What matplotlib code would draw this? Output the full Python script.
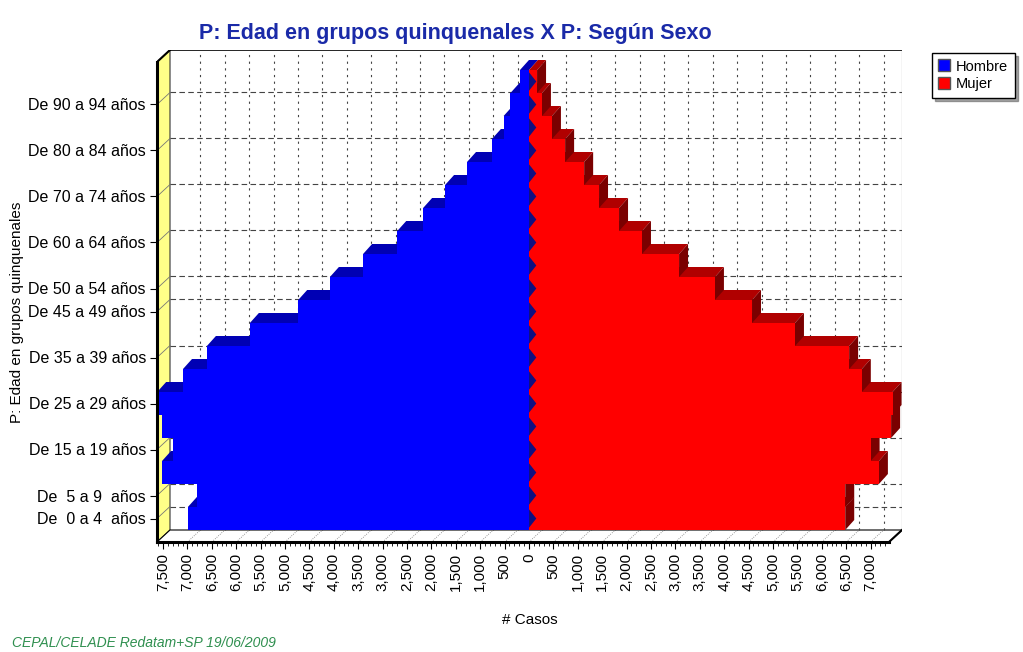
import matplotlib.pyplot as plt
from matplotlib.patches import Polygon
from matplotlib.lines import Line2D

plt.rcParams['font.family'] = ['Liberation Sans', 'DejaVu Sans']

# age groups (0-4 ... 95-99), only some get a tick label like the original
groups = ["De  0 a 4  años", "De  5 a 9  años", "De 10 a 14 años", "De 15 a 19 años",
          "De 20 a 24 años", "De 25 a 29 años", "De 30 a 34 años", "De 35 a 39 años",
          "De 40 a 44 años", "De 45 a 49 años", "De 50 a 54 años", "De 55 a 59 años",
          "De 60 a 64 años", "De 65 a 69 años", "De 70 a 74 años", "De 75 a 79 años",
          "De 80 a 84 años", "De 85 a 89 años", "De 90 a 94 años", "De 95 a 99 años"]
shown_labels = [0, 1, 3, 5, 7, 9, 10, 12, 14, 16, 18]

hombre = [6990, 6800, 7520, 7300, 7520, 7620, 7090, 6600, 5720, 4730,
          4080, 3400, 2700, 2170, 1720, 1270, 760, 520, 380, 185]
mujer = [6480, 6480, 7170, 7000, 7420, 7450, 6820, 6560, 5450, 4570,
         3810, 3075, 2315, 1845, 1435, 1130, 740, 470, 265, 165]

xticks = list(range(-7500, 7001, 500))

# pixel -> data helpers (1023x652 canvas)
SCALE = 0.0488   # px per case
ROW = 23.0       # px per age group
def X(px):
    return (px - 529) / SCALE
def Y(py):
    return (518.5 - py) / ROW

DX, DY = 13 / SCALE, 12 / ROW      # depth of the box
dxb, dyb = 9 / SCALE, 10 / ROW     # depth of the bars

fig = plt.figure(figsize=(10.23, 6.52), dpi=100)
ax = fig.add_axes([157 / 1023, 1 - 542 / 652, (902 - 157) / 1023, (542 - 50) / 652])
ax.set_xlim(X(157), X(902))
ax.set_ylim(Y(542), Y(50))
ax.set_facecolor('none')

# back wall grid
for v in xticks[1:]:
    ax.plot([v + DX, v + DX], [Y(530), Y(50)], color='#444444', lw=0.8,
            ls=(0, (2, 4)), zorder=1)
for k in shown_labels:
    ax.plot([X(170), X(902)], [k + DY, k + DY], color='#444444', lw=0.8,
            ls=(0, (5, 3)), zorder=1)
ax.plot([X(170), X(902)], [Y(50), Y(50)], color='black', lw=1.2, zorder=1)
ax.plot([X(902), X(902)], [Y(50), Y(530)], color='#555555', lw=0.8, zorder=1)

# left wall (yellow) and floor
ax.add_patch(Polygon([(X(157), Y(62)), (X(157), Y(542)), (X(170), Y(530)), (X(170), Y(50))],
                     closed=True, facecolor='#ffff88', edgecolor='#333333', lw=0.8, zorder=0.5))
ax.add_patch(Polygon([(X(157), Y(542)), (X(889), Y(542)), (X(902), Y(530)), (X(170), Y(530))],
                     closed=True, facecolor='white', edgecolor='black', lw=0.8, zorder=0.5))
for v in xticks[1:]:
    ax.plot([v, v + DX], [Y(542), Y(530)], color='#777777', lw=0.6, ls=':', zorder=0.6)
for k in shown_labels:
    ax.plot([X(157), X(170)], [k, k + DY], color='#777777', lw=0.6, zorder=0.6)

# bar depth faces first
for k in range(len(groups)):
    yb, yt = k - 0.5, k + 0.5
    h, m = -hombre[k], mujer[k]
    ax.add_patch(Polygon([(h, yt), (h + dxb, yt + dyb), (dxb, yt + dyb), (0, yt)],
                         closed=True, facecolor='#0000b4', edgecolor='none', zorder=2))
    ax.add_patch(Polygon([(0, yt), (m, yt), (m + dxb, yt + dyb), (dxb, yt + dyb)],
                         closed=True, facecolor='#b00000', edgecolor='none', zorder=2))
    ax.add_patch(Polygon([(m, yb), (m, yt), (m + dxb, yt + dyb), (m + dxb, yb + dyb)],
                         closed=True, facecolor='#7a0000', edgecolor='none', zorder=2))

# front faces
ax.barh(range(len(groups)), [-v for v in hombre], height=1.0, color='#0000ff', zorder=3)
ax.barh(range(len(groups)), mujer, height=1.0, color='#ff0000', zorder=3)
for k in range(len(groups)):
    ax.add_patch(Polygon([(0, k - 0.4), (150, k), (0, k + 0.4)], closed=True,
                         facecolor='#101080', edgecolor='none', zorder=4))

# axes lines, ticks
for s in ['top', 'right']:
    ax.spines[s].set_visible(False)
ax.spines['left'].set_bounds(Y(542), Y(62))
ax.spines['left'].set_linewidth(2.2)
ax.spines['bottom'].set_bounds(X(157), X(889))
ax.spines['bottom'].set_linewidth(2.2)
ax.spines['left'].set_zorder(5)
ax.spines['bottom'].set_zorder(5)
ax.plot([X(889), X(902)], [Y(542), Y(530)], color='black', lw=1.5, zorder=5)
ax.plot([X(157), X(170)], [Y(62), Y(50)], color='black', lw=1.5, zorder=5)

ax.set_yticks(shown_labels)
ax.set_yticklabels([groups[k] for k in shown_labels], fontsize=11.5)
ax.set_xticks(xticks)
ax.set_xticklabels([f"{abs(v):,}" for v in xticks], rotation=90, fontsize=11)
ax.set_xticks(range(-7600, 7400, 100), minor=True)
ax.tick_params(axis='both', direction='out', length=5, width=0.8, pad=3)
ax.tick_params(axis='x', which='minor', length=3, width=0.6)

ax.set_xlabel("# Casos", fontsize=11, labelpad=16)
fig.text(17 / 1023, 1 - 312 / 652, "P: Edad en grupos quinquenales", rotation=90,
         ha='center', va='center', fontsize=11)

fig.text(455 / 1023, 1 - 33 / 652, "P: Edad en grupos quinquenales X P: Según Sexo",
         ha='center', va='center', fontsize=15.5, fontweight='bold', color='#1a2aa8')
fig.text(12 / 1023, 1 - 643 / 652, "CEPAL/CELADE Redatam+SP 19/06/2009",
         ha='left', va='center', fontsize=10, style='italic', color='#2f8f4f')

handles = [Line2D([], [], marker='s', ls='none', markersize=9, markerfacecolor='#0000ff',
                  markeredgecolor='#555555'),
           Line2D([], [], marker='s', ls='none', markersize=9, markerfacecolor='#ff0000',
                  markeredgecolor='#555555')]
fig.legend(handles, ["Hombre", "Mujer"], loc='upper left',
           bbox_to_anchor=(932 / 1023, 1 - 53 / 652), fontsize=10.5, frameon=True,
           fancybox=False, shadow=True, edgecolor='black', handlelength=0.8,
           handletextpad=0.4, borderpad=0.45, labelspacing=0.25, borderaxespad=0)

fig.savefig('out.png', dpi=100)
